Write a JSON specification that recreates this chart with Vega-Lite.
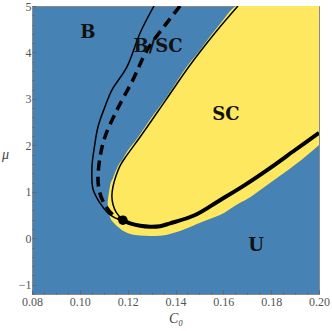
{
  "$schema": "https://vega.github.io/schema/vega-lite/v6.json",
  "width": 287,
  "height": 288,
  "autosize": {"type": "none"},
  "padding": {"left": 32, "top": 6, "right": 13, "bottom": 37},
  "background": "white",
  "view": {"fill": "#4682B4", "stroke": "#8a8a8a", "strokeWidth": 1},
  "datasets": {
    "sc": [
      {"x": 0.1116, "lo": 0.76, "hi": 0.76},
      {"x": 0.1126, "lo": 0.46, "hi": 1.12},
      {"x": 0.1139, "lo": 0.35, "hi": 1.30},
      {"x": 0.1160, "lo": 0.24, "hi": 1.56},
      {"x": 0.1180, "lo": 0.16, "hi": 1.71},
      {"x": 0.1197, "lo": 0.12, "hi": 1.86},
      {"x": 0.1231, "lo": 0.07, "hi": 2.09},
      {"x": 0.1252, "lo": 0.06, "hi": 2.24},
      {"x": 0.1293, "lo": 0.05, "hi": 2.55},
      {"x": 0.1314, "lo": 0.05, "hi": 2.70},
      {"x": 0.1360, "lo": 0.07, "hi": 3.02},
      {"x": 0.1377, "lo": 0.09, "hi": 3.15},
      {"x": 0.1461, "lo": 0.24, "hi": 3.79},
      {"x": 0.1482, "lo": 0.29, "hi": 3.92},
      {"x": 0.1565, "lo": 0.46, "hi": 4.48},
      {"x": 0.1586, "lo": 0.50, "hi": 4.61},
      {"x": 0.1661, "lo": 0.74, "hi": 5.0},
      {"x": 0.1691, "lo": 0.82, "hi": 5.0},
      {"x": 0.1795, "lo": 1.19, "hi": 5.0},
      {"x": 0.1900, "lo": 1.58, "hi": 5.0},
      {"x": 0.2000, "lo": 2.01, "hi": 5.0}
    ],
    "scEdge": [
      {"i": 0, "x": 0.1661, "y": 5.0},
      {"i": 1, "x": 0.1565, "y": 4.42},
      {"i": 2, "x": 0.1461, "y": 3.73},
      {"i": 3, "x": 0.1360, "y": 2.98},
      {"i": 4, "x": 0.1252, "y": 2.18},
      {"i": 5, "x": 0.1197, "y": 1.79},
      {"i": 6, "x": 0.1168, "y": 1.56},
      {"i": 7, "x": 0.1151, "y": 1.34},
      {"i": 8, "x": 0.1139, "y": 1.12},
      {"i": 9, "x": 0.1134, "y": 0.91},
      {"i": 10, "x": 0.1139, "y": 0.72},
      {"i": 11, "x": 0.1151, "y": 0.57},
      {"i": 12, "x": 0.1180, "y": 0.39}
    ],
    "bEdge": [
      {"i": 0, "x": 0.1310, "y": 5.0},
      {"i": 1, "x": 0.1252, "y": 4.42},
      {"i": 2, "x": 0.1197, "y": 3.69},
      {"i": 3, "x": 0.1134, "y": 3.19},
      {"i": 4, "x": 0.1105, "y": 2.83},
      {"i": 5, "x": 0.1076, "y": 2.40},
      {"i": 6, "x": 0.1059, "y": 1.90},
      {"i": 7, "x": 0.1051, "y": 1.56},
      {"i": 8, "x": 0.1055, "y": 1.06},
      {"i": 9, "x": 0.1084, "y": 0.76},
      {"i": 10, "x": 0.1118, "y": 0.54},
      {"i": 11, "x": 0.1147, "y": 0.44},
      {"i": 12, "x": 0.1180, "y": 0.39}
    ],
    "dashed": [
      {"i": 0, "x": 0.1419, "y": 5.0},
      {"i": 1, "x": 0.1360, "y": 4.61},
      {"i": 2, "x": 0.1281, "y": 4.05},
      {"i": 3, "x": 0.1222, "y": 3.41},
      {"i": 4, "x": 0.1155, "y": 2.76},
      {"i": 5, "x": 0.1105, "y": 2.18},
      {"i": 6, "x": 0.1084, "y": 1.73},
      {"i": 7, "x": 0.1076, "y": 1.25},
      {"i": 8, "x": 0.1084, "y": 0.97},
      {"i": 9, "x": 0.1105, "y": 0.72},
      {"i": 10, "x": 0.1139, "y": 0.50},
      {"i": 11, "x": 0.1180, "y": 0.39}
    ],
    "thick": [
      {"x": 0.1180, "y": 0.39},
      {"x": 0.1210, "y": 0.32},
      {"x": 0.1252, "y": 0.27},
      {"x": 0.1293, "y": 0.25},
      {"x": 0.1335, "y": 0.26},
      {"x": 0.1377, "y": 0.32},
      {"x": 0.1482, "y": 0.50},
      {"x": 0.1586, "y": 0.82},
      {"x": 0.1691, "y": 1.15},
      {"x": 0.1795, "y": 1.51},
      {"x": 0.1900, "y": 1.90},
      {"x": 0.2000, "y": 2.27}
    ],
    "dot": [{"x": 0.118, "y": 0.39}],
    "labels": [
      {"x": 0.1034, "y": 4.42, "t": "B"},
      {"x": 0.1327, "y": 4.12, "t": "B/SC"},
      {"x": 0.1611, "y": 2.65, "t": "SC"},
      {"x": 0.1737, "y": -0.17, "t": "U"}
    ]
  },
  "encoding": {
    "x": {
      "field": "x", "type": "quantitative",
      "scale": {"domain": [0.08, 0.20], "nice": false, "zero": false},
      "axis": {
        "title": "C₀",
        "values": [0.08,0.085,0.09,0.095,0.1,0.105,0.11,0.115,0.12,0.125,0.13,0.135,0.14,0.145,0.15,0.155,0.16,0.165,0.17,0.175,0.18,0.185,0.19,0.195,0.2],
        "labelExpr": "abs(datum.value*50 - round(datum.value*50)) < 0.001 ? format(datum.value, '.2f') : ''",
        "tickSize": {"condition": {"test": "abs(datum.value*50 - round(datum.value*50)) < 0.001", "value": -4}, "value": -2},
        "labelOverlap": false,
        "labelFlush": false,
        "labelPadding": 6,
        "titlePadding": 2
      }
    },
    "y": {
      "field": "y", "type": "quantitative",
      "scale": {"domain": [-1.2, 5], "nice": false, "zero": false},
      "axis": {
        "title": "μ",
        "values": [-1.2,-1,-0.8,-0.6,-0.4,-0.2,0,0.2,0.4,0.6,0.8,1,1.2,1.4,1.6,1.8,2,2.2,2.4,2.6,2.8,3,3.2,3.4,3.6,3.8,4,4.2,4.4,4.6,4.8,5],
        "labelExpr": "abs(datum.value - round(datum.value)) < 0.001 ? format(datum.value, '.0f') : ''",
        "tickSize": {"condition": {"test": "abs(datum.value - round(datum.value)) < 0.001", "value": -4}, "value": -2},
        "labelOverlap": false,
        "labelFlush": false,
        "labelPadding": 5,
        "titleAngle": 0,
        "titleX": -27,
        "titleY": 148,
        "titleAlign": "center",
        "titleBaseline": "middle"
      }
    }
  },
  "config": {
    "axis": {
      "grid": false,
      "domain": false,
      "tickColor": "#666666",
      "tickWidth": 1,
      "labelFont": "Liberation Serif",
      "labelFontSize": 12,
      "labelColor": "#555555",
      "titleFont": "Liberation Serif",
      "titleFontSize": 14,
      "titleFontWeight": "normal",
      "titleFontStyle": "italic",
      "titleColor": "#444444"
    }
  },
  "layer": [
    {
      "data": {"name": "sc"},
      "mark": {"type": "area", "color": "#FDE85F", "clip": true, "opacity": 1, "interpolate": "monotone"},
      "encoding": {"y": {"field": "lo", "type": "quantitative"}, "y2": {"field": "hi"}}
    },
    {
      "data": {"name": "scEdge"},
      "mark": {"type": "line", "color": "black", "strokeWidth": 1.5, "clip": true, "interpolate": "catmull-rom"},
      "encoding": {"order": {"field": "i", "type": "quantitative"}}
    },
    {
      "data": {"name": "bEdge"},
      "mark": {"type": "line", "color": "black", "strokeWidth": 1.5, "clip": true, "interpolate": "catmull-rom"},
      "encoding": {"order": {"field": "i", "type": "quantitative"}}
    },
    {
      "data": {"name": "dashed"},
      "mark": {"type": "line", "color": "black", "strokeWidth": 3.5, "strokeDash": [10, 6], "clip": true, "interpolate": "catmull-rom"},
      "encoding": {"order": {"field": "i", "type": "quantitative"}}
    },
    {
      "data": {"name": "thick"},
      "mark": {"type": "line", "color": "black", "strokeWidth": 4, "clip": true, "interpolate": "catmull-rom"},
      "encoding": {}
    },
    {
      "data": {"name": "dot"},
      "mark": {"type": "point", "filled": true, "color": "black", "size": 90, "opacity": 1},
      "encoding": {}
    },
    {
      "data": {"name": "labels"},
      "mark": {"type": "text", "font": "DejaVu Serif", "fontWeight": "bold", "fontSize": 18, "color": "#111111"},
      "encoding": {"text": {"field": "t"}}
    }
  ]
}
